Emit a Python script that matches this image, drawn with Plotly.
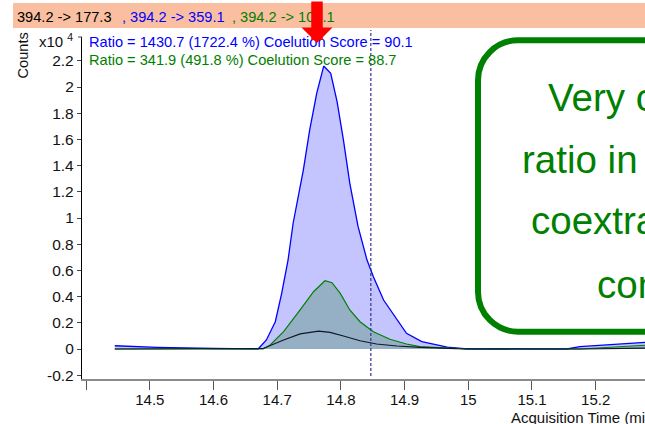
import plotly.graph_objects as go

FONT = "Liberation Sans, Arial, Helvetica, sans-serif"

# Extracted ion chromatograms (counts in units of 10^4)
time_177 = [14.445, 14.600, 14.678, 14.710, 14.736, 14.765, 14.783, 14.804, 14.830,
            14.856, 14.888, 14.924, 14.980, 15.180, 15.277, 15.300]
counts_177 = [0.0, 0.0, 0.004, 0.069, 0.115, 0.137, 0.127, 0.099, 0.063,
              0.038, 0.023, 0.013, 0.003, 0.0, 0.008, 0.009]

time_359 = [14.445, 14.511, 14.600, 14.670, 14.683, 14.697, 14.707, 14.717, 14.725,
            14.741, 14.751, 14.762, 14.773, 14.784, 14.794, 14.804, 14.814, 14.827,
            14.841, 14.851, 14.867, 14.888, 14.903, 14.927, 14.967, 14.998, 15.155,
            15.175, 15.228, 15.277, 15.300]
counts_359 = [0.025, 0.013, 0.004, 0.0, 0.069, 0.208, 0.425, 0.679, 0.960,
              1.366, 1.672, 1.952, 2.160, 2.105, 1.888, 1.595, 1.265, 0.934,
              0.679, 0.552, 0.374, 0.221, 0.120, 0.057, 0.015, 0.0, 0.0,
              0.018, 0.036, 0.051, 0.058]

time_104 = [14.445, 14.600, 14.678, 14.689, 14.710, 14.736, 14.757, 14.775, 14.786,
            14.799, 14.814, 14.830, 14.851, 14.877, 14.903, 14.924, 14.966, 15.000,
            15.175, 15.277, 15.300]
counts_104 = [0.0, 0.0, 0.0, 0.031, 0.132, 0.298, 0.437, 0.521, 0.506,
              0.425, 0.298, 0.208, 0.132, 0.074, 0.038, 0.018, 0.010, 0.0,
              0.0, 0.031, 0.035]

# Expected retention time marker
rt_marker = 14.847

transitions = ["394.2 -> 177.3", ", 394.2 -> 359.1", ", 394.2 -> 104.1"]
ratio_lines = ["Ratio = 1430.7 (1722.4 %) Coelution Score = 90.1",
               "Ratio = 341.9 (491.8 %) Coelution Score = 88.7"]
note_lines = ["Very changed ion", "ratio in presence of", "coextracted matrix", "compounds"]

y_tick_labels = ["-0.2", "0", "0.2", "0.4", "0.6", "0.8", "1", "1.2", "1.4",
                 "1.6", "1.8", "2", "2.2"]
x_tick_values = [14.4, 14.5, 14.6, 14.7, 14.8, 14.9, 15.0, 15.1, 15.2]
x_tick_labels = ["", "14.5", "14.6", "14.7", "14.8", "14.9", "15", "15.1", "15.2"]

# Page geometry (pixels) and helpers to place decorations in paper units
W, H = 645, 424
L, R, T, B = 82, 645, 37, 379


def fx(p):
    return (p - L) / (R - L)


def fy(p):
    return (B - p) / (B - T)


fig = go.Figure()
fig.add_trace(go.Scatter(x=time_359, y=counts_359, mode="lines", fill="tozeroy",
                         line=dict(color="#0000FF", width=1.3),
                         fillcolor="rgba(0,0,255,0.23)", hoverinfo="skip"))
fig.add_trace(go.Scatter(x=time_104, y=counts_104, mode="lines", fill="tozeroy",
                         line=dict(color="#008000", width=1.2),
                         fillcolor="rgba(81,148,108,0.4)", hoverinfo="skip"))
fig.add_trace(go.Scatter(x=time_177, y=counts_177, mode="lines",
                         line=dict(color="#101828", width=1.2), hoverinfo="skip"))

shapes = []
# transition header band
shapes.append(dict(type="rect", xref="paper", yref="paper", layer="below",
                   x0=fx(13), x1=fx(660), y0=fy(28), y1=fy(3),
                   fillcolor="#FABFA0", line=dict(width=0)))
# top tick of the y axis
shapes.append(dict(type="line", xref="paper", yref="paper",
                   x0=fx(78), x1=fx(82), y0=1, y1=1,
                   line=dict(color="#444", width=1)))
# retention time marker
shapes.append(dict(type="line", xref="x", yref="paper", x0=rt_marker, x1=rt_marker,
                   y0=fy(376), y1=fy(30),
                   line=dict(color="#333399", width=1.2, dash="3px,2px")))

# rounded note box
bx0, bx1, byt, byb = fx(478), fx(900), fy(40.3), fy(331.7)
rx, ry = 40 / (R - L), 40 / (B - T)
k = 0.5523
box_path = (f"M {bx0 + rx},{byt} L {bx1},{byt} L {bx1},{byb} L {bx0 + rx},{byb} "
            f"C {bx0 + rx * (1 - k)},{byb} {bx0},{byb + ry * (1 - k)} {bx0},{byb + ry} "
            f"L {bx0},{byt - ry} "
            f"C {bx0},{byt - ry * (1 - k)} {bx0 + rx * (1 - k)},{byt} {bx0 + rx},{byt} Z")
shapes.append(dict(type="path", xref="paper", yref="paper", layer="above",
                   path=box_path, fillcolor="white",
                   line=dict(color="#008000", width=6)))

ann = []
hdr_colors = ["#000000", "#0000FF", "#008000"]
hdr_x = [15, 119.5, 230]
for txt, col, x in zip(transitions, hdr_colors, hdr_x):
    ann.append(dict(text=txt, x=fx(x), y=fy(17), xref="paper", yref="paper",
                    xanchor="left", yanchor="middle", showarrow=False,
                    font=dict(family=FONT, size=14.6, color=col)))

for txt, col, y in zip(ratio_lines, ["#0000FF", "#008000"], [42, 60]):
    ann.append(dict(text=txt, x=fx(86.5), y=fy(y), xref="paper", yref="paper",
                    xanchor="left", yanchor="middle", showarrow=False,
                    font=dict(family=FONT, size=14.6, color=col)))

for txt, x, y in zip(note_lines, [545.5, 520, 529, 594.5], [98, 159, 220, 284]):
    ann.append(dict(text=txt, x=fx(x), y=fy(y), xref="paper", yref="paper",
                    xanchor="left", yanchor="middle", showarrow=False,
                    font=dict(family=FONT, size=38.5, color="#008000")))

ann.append(dict(text="x10 <sup>4</sup>", x=fx(75), y=fy(40), xref="paper", yref="paper",
                xanchor="right", yanchor="middle", showarrow=False,
                font=dict(family=FONT, size=15, color="#111")))
ann.append(dict(text="Counts", x=fx(22.5), y=fy(56), xref="paper", yref="paper",
                xanchor="center", yanchor="middle", textangle=-90, showarrow=False,
                font=dict(family=FONT, size=14.6, color="#111")))
ann.append(dict(text="Acquisition Time (min)", x=fx(509), y=fy(417), xref="paper",
                yref="paper", xanchor="left", yanchor="middle", showarrow=False,
                font=dict(family=FONT, size=15, color="#111")))

# red pointer arrow, on top of the header text
ann.append(dict(text="", x=fx(317), y=fy(43), xref="paper", yref="paper",
                showarrow=True, ax=0, ay=-50, arrowhead=1, arrowwidth=11.5,
                arrowsize=0.45, arrowcolor="#FF0000", standoff=0))

y_top = (349 - T) / 131
y_bot = -(B - 349) / 131

fig.update_layout(
    width=W, height=H, autosize=False,
    margin=dict(l=L, r=W - R, t=T, b=H - B, pad=0),
    paper_bgcolor="white", plot_bgcolor="white",
    showlegend=False,
    shapes=shapes, annotations=ann,
    xaxis=dict(range=[14.8 - (340.9 - L) / 636.9, 14.8 + (R - 340.9) / 636.9],
               tickmode="array", tickvals=x_tick_values, ticktext=x_tick_labels,
               ticks="outside", ticklen=9, tickwidth=1, tickcolor="#555",
               ticklabelstandoff=-3,
               showline=True, linecolor="#8a8a8a", linewidth=2,
               showgrid=False, zeroline=False,
               tickfont=dict(family=FONT, size=15, color="#111")),
    yaxis=dict(range=[y_bot, y_top],
               tickmode="array", tickvals=[float(t) for t in y_tick_labels],
               ticktext=y_tick_labels,
               ticks="outside", ticklen=4, tickwidth=1, tickcolor="#444",
               showline=True, linecolor="#000", linewidth=1.3,
               showgrid=False, zeroline=False,
               tickfont=dict(family=FONT, size=15.5, color="#111")),
)

fig.write_html("out.html")
